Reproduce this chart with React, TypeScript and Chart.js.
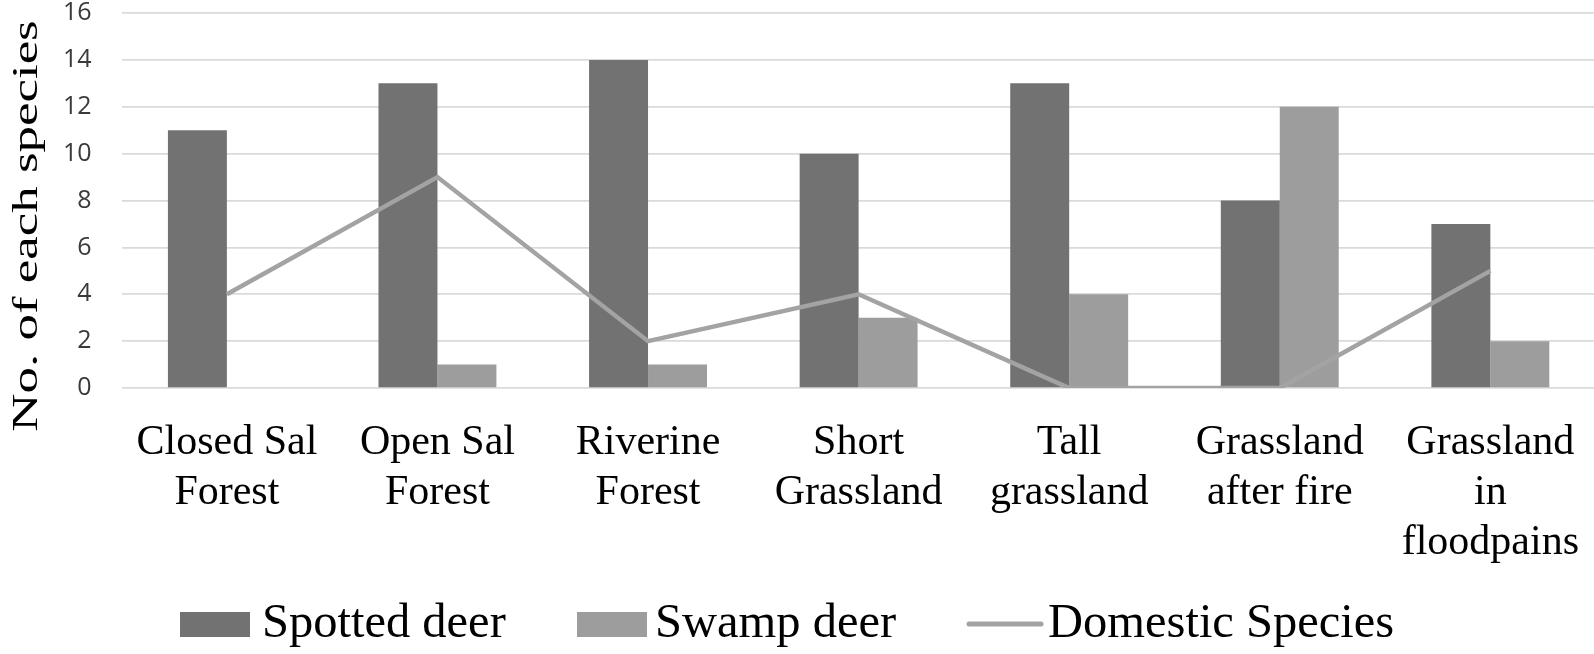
import React, { useEffect, useRef } from "react";
import { Chart, registerables } from "chart.js";

Chart.register(...registerables);

const categories: string[][] = [
  ["Closed Sal", "Forest"],
  ["Open Sal", "Forest"],
  ["Riverine", "Forest"],
  ["Short", "Grassland"],
  ["Tall", "grassland"],
  ["Grassland", "after fire"],
  ["Grassland", "in", "floodpains"],
];
const seriesNames = ["Spotted deer", "Swamp deer", "Domestic Species"];
const spottedDeer = [11, 13, 14, 10, 13, 8, 7];
const swampDeer = [0, 1, 1, 3, 4, 12, 2];
const domesticSpecies = [4, 9, 2, 4, 0, 0, 5];
const yAxisTitle = "No. of each species";
const yTicksMin = 0;
const yTicksMax = 16;
const yTickStep = 2;

const DARK = "#727272";
const LIGHT = "#9d9d9d";
const LINE = "#a3a3a3";
const SERIF = "'Liberation Serif', 'Times New Roman', serif";

const W = 1594;
const H = 654;
// canvas is slightly wider than the visible frame so the plot reaches the right edge
const CANVAS_W = 1609;

// legend layout
const LEGEND_Y = 624;
const LEGEND_FONT = 48.5;
const LEGEND_SWATCH_X = [180, 577, 966];
const LEGEND_SWATCH_W = [70, 70, 78];
const LEGEND_TEXT_X = [262, 655, 1048];

// y axis title layout
const TITLE_BASELINE_X = 37;
const TITLE_CENTER_Y = 226;
const TITLE_FONT = 36;
const TITLE_STRETCH = 1.47;

const customLegend = {
  id: "customLegend",
  afterDraw(chart: any) {
    const ctx = chart.ctx as CanvasRenderingContext2D;
    ctx.save();
    ctx.font = `${LEGEND_FONT}px ${SERIF}`;
    ctx.textBaseline = "middle";
    ctx.textAlign = "left";
    chart.data.datasets.forEach((ds: any, i: number) => {
      const x = LEGEND_SWATCH_X[i];
      const w = LEGEND_SWATCH_W[i];
      if (ds.type === "line") {
        ctx.strokeStyle = ds.borderColor;
        ctx.lineWidth = 5;
        ctx.lineCap = "round";
        ctx.beginPath();
        ctx.moveTo(x + 3, LEGEND_Y);
        ctx.lineTo(x + w - 3, LEGEND_Y);
        ctx.stroke();
      } else {
        ctx.fillStyle = ds.backgroundColor;
        ctx.fillRect(x, LEGEND_Y - 12, w, 25);
      }
      ctx.fillStyle = "#000";
      ctx.fillText(ds.label, LEGEND_TEXT_X[i], LEGEND_Y);
    });
    ctx.restore();
  },
};

const yTitlePlugin = {
  id: "yTitlePlugin",
  afterDraw(chart: any) {
    const ctx = chart.ctx as CanvasRenderingContext2D;
    ctx.save();
    ctx.translate(TITLE_BASELINE_X, TITLE_CENTER_Y);
    ctx.scale(1, TITLE_STRETCH);
    ctx.rotate(-Math.PI / 2);
    ctx.font = `${TITLE_FONT}px ${SERIF}`;
    ctx.fillStyle = "#000";
    ctx.textAlign = "center";
    ctx.textBaseline = "alphabetic";
    ctx.fillText(yAxisTitle, 0, 0);
    ctx.restore();
  },
};

export default function App() {
  const ref = useRef<HTMLCanvasElement | null>(null);
  useEffect(() => {
    if (!ref.current) return;
    const chart = new Chart(ref.current, {
      type: "bar",
      data: {
        labels: categories,
        datasets: [
          {
            type: "bar",
            label: seriesNames[0],
            data: spottedDeer,
            backgroundColor: DARK,
            borderWidth: 0,
            order: 1,
          },
          {
            type: "bar",
            label: seriesNames[1],
            data: swampDeer,
            backgroundColor: LIGHT,
            borderWidth: 0,
            order: 1,
          },
          {
            type: "line",
            label: seriesNames[2],
            data: domesticSpecies,
            borderColor: LINE,
            backgroundColor: LINE,
            borderWidth: 4.5,
            pointRadius: 0,
            tension: 0,
            order: 0,
          } as any,
        ],
      },
      plugins: [customLegend, yTitlePlugin],
      options: {
        responsive: false,
        animation: false,
        layout: { padding: { top: 13, left: 63, right: 0, bottom: 56 } },
        datasets: {
          bar: { categoryPercentage: 0.56, barPercentage: 1 },
        },
        plugins: {
          tooltip: { enabled: false },
          legend: { display: false },
        },
        scales: {
          x: {
            grid: { display: false, drawTicks: false },
            border: { display: false },
            ticks: {
              color: "#000",
              font: { family: SERIF, size: 42, lineHeight: 1.19 },
              padding: 30,
              maxRotation: 0,
              autoSkip: false,
            },
          },
          y: {
            min: yTicksMin,
            max: yTicksMax,
            grid: {
              color: "#dadada",
              lineWidth: 1.8,
              drawTicks: true,
              tickLength: 30,
              tickColor: "rgba(0,0,0,0)",
            },
            border: { display: false },
            ticks: {
              stepSize: yTickStep,
              color: "#3a3a3a",
              font: { family: "'Open Sans', sans-serif", size: 25, lineHeight: 1 },
              padding: 0,
            },
          },
        },
      },
    });
    return () => chart.destroy();
  }, []);
  return (
    <div style={{ position: "absolute", left: 0, top: 0, width: W, height: H, background: "#fff", overflow: "hidden" }}>
      <canvas ref={ref} width={CANVAS_W} height={H} style={{ display: "block" }} />
    </div>
  );
}
